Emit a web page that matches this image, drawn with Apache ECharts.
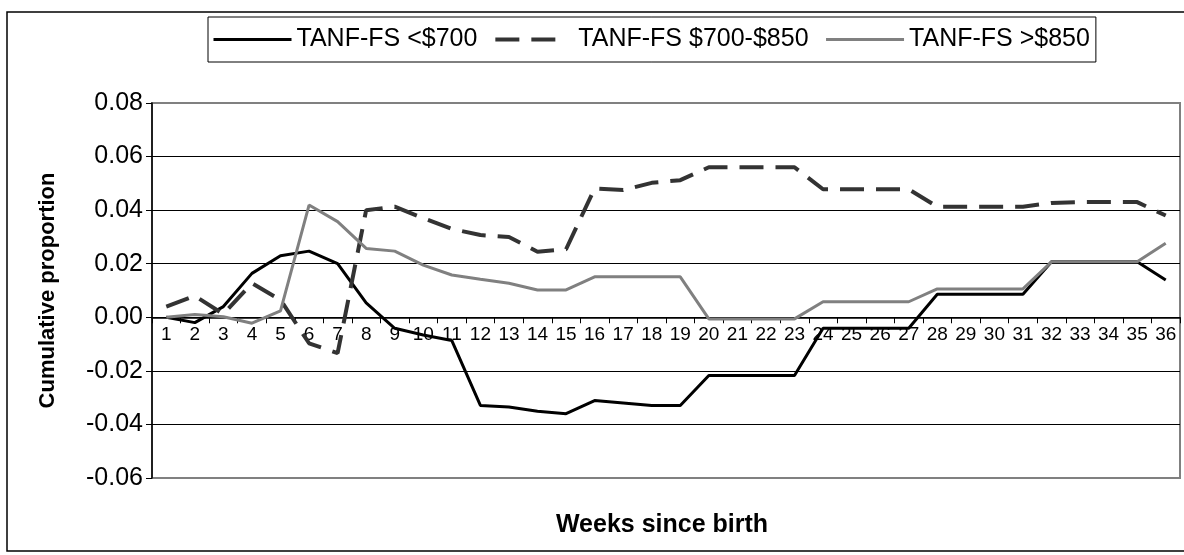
<!DOCTYPE html>
<html>
<head>
<meta charset="utf-8">
<title>Cumulative proportion by weeks since birth</title>
<script src="https://cdn.jsdelivr.net/npm/echarts@6/dist/echarts.min.js"></script>
<style>
	html, body { margin: 0; padding: 0; background: #fff; }
	#chartDom { width: 1184px; height: 555px; }
</style>
</head>
<body>
<div id="chartDom"></div>
<script>
	// x categories: weeks 1..36
	const weeks = ['1', '2', '3', '4', '5', '6', '7', '8', '9', '10', '11', '12', '13', '14', '15', '16', '17', '18',
		'19', '20', '21', '22', '23', '24', '25', '26', '27', '28', '29', '30', '31', '32', '33', '34', '35', '36'];

	const seriesNames = ['TANF-FS <$700', 'TANF-FS $700-$850', 'TANF-FS >$850'];

	// TANF-FS <$700 (black solid)
	const lowIncome = [0, -0.002, 0.004, 0.0164, 0.023, 0.0247, 0.020, 0.0054, -0.0041, -0.0066, -0.0087, -0.0329,
		-0.0335, -0.0351, -0.036, -0.0311, -0.032, -0.0329, -0.0329, -0.0217, -0.0217, -0.0217, -0.0217, -0.0041,
		-0.0041, -0.0041, -0.0041, 0.0086, 0.0086, 0.0086, 0.0086, 0.0207, 0.0207, 0.0207, 0.0207, 0.0139];

	// TANF-FS $700-$850 (dark dashed)
	const midIncome = [0.004, 0.008, 0.0012, 0.0127, 0.0065, -0.0097, -0.0134, 0.040, 0.0413, 0.037, 0.033, 0.0307,
		0.030, 0.0245, 0.0254, 0.0481, 0.0475, 0.0502, 0.0512, 0.056, 0.056, 0.056, 0.056, 0.0478,
		0.0478, 0.0478, 0.0478, 0.0413, 0.0413, 0.0413, 0.0413, 0.0427, 0.043, 0.043, 0.043, 0.038];

	// TANF-FS >$850 (gray solid)
	const highIncome = [0, 0.001, 0.0002, -0.0022, 0.0024, 0.0419, 0.0357, 0.0257, 0.0247, 0.0195, 0.0158, 0.0142,
		0.0127, 0.0102, 0.0102, 0.0151, 0.0151, 0.0151, 0.0151, -0.0006, -0.0006, -0.0006, -0.0006, 0.0058,
		0.0058, 0.0058, 0.0058, 0.0106, 0.0106, 0.0106, 0.0106, 0.0207, 0.0207, 0.0207, 0.0207, 0.0276];

	const yMin = -0.06;
	const yMax = 0.08;
	const yStep = 0.02;

	const font = '"Liberation Sans", Arial, sans-serif';

	// plot box
	const gridTop = 103;
	const gridBottom = 77;
	const gridHeight = 555 - gridTop - gridBottom;
	// category axis sits on the zero line (Excel style)
	const xAxisOffset = -gridHeight * (0 - yMin) / (yMax - yMin);

	const lineStyles = [
		{ color: '#000000', width: 3, type: 'solid' },
		{ color: '#333333', width: 4, type: [24, 12] },
		{ color: '#808080', width: 3, type: 'solid' }
	];
	// legend sample of the dashed line: two whole dashes
	const legendStyles = [
		lineStyles[0],
		{ color: '#333333', width: 4, type: [24, 12, 24, 18] },
		lineStyles[2]
	];

	const myChart = echarts.init(document.getElementById('chartDom'), null, { renderer: 'canvas' });

	const lineSeries = (name, data, style) => ({
		name: name,
		type: 'line',
		data: data,
		symbol: 'none',
		smooth: false,
		lineStyle: style,
		itemStyle: { color: style.color }
	});

	const option = {
		animation: false,
		backgroundColor: '#fff',
		textStyle: { fontFamily: font, color: '#000' },
		graphic: [{
			// outer chart frame
			type: 'rect',
			shape: { x: 7, y: 12, width: 1200, height: 539 },
			style: { fill: 'none', stroke: '#000', lineWidth: 1.5 },
			z: -10
		}],
		title: {
			text: 'Weeks since birth',
			left: 657,
			top: 508,
			textAlign: 'center',
			textStyle: { fontFamily: font, fontSize: 25, fontWeight: 'bold', color: '#000' }
		},
		legend: {
			data: seriesNames.map((n, i) => ({ name: n, lineStyle: legendStyles[i] })),
			left: 208,
			top: 17,
			itemWidth: 78,
			itemHeight: 14,
			itemGap: 16,
			padding: [10, 6, 10, 4],
			backgroundColor: '#fff',
			borderColor: '#000',
			borderWidth: 1,
			// hide the round marker, keep the line sample
			itemStyle: { opacity: 0 },
			textStyle: { fontFamily: font, fontSize: 25, color: '#000' }
		},
		grid: {
			left: 152,
			right: 4,
			top: gridTop,
			bottom: gridBottom,
			show: true,
			borderColor: '#808080',
			borderWidth: 2,
			backgroundColor: '#fff'
		},
		xAxis: {
			type: 'category',
			data: weeks,
			boundaryGap: true,
			offset: xAxisOffset,
			axisLine: { onZero: false, lineStyle: { color: '#000', width: 1.5 } },
			axisTick: { show: true, interval: 0, length: 6, lineStyle: { color: '#000', width: 1 } },
			axisLabel: { interval: 0, fontSize: 19, margin: 8, color: '#000', fontFamily: font },
			splitLine: { show: false }
		},
		yAxis: {
			type: 'value',
			min: yMin,
			max: yMax,
			interval: yStep,
			name: 'Cumulative proportion',
			nameLocation: 'middle',
			nameRotate: 90,
			nameGap: 93,
			nameTextStyle: { fontFamily: font, fontSize: 22, fontWeight: 'bold', color: '#000' },
			axisLine: { show: true, lineStyle: { color: '#000', width: 1.5 } },
			axisTick: { show: true, length: 6, lineStyle: { color: '#000' } },
			axisLabel: {
				fontSize: 25,
				margin: 9,
				color: '#000',
				fontFamily: font,
				formatter: (v) => v.toFixed(2)
			},
			splitLine: {
				show: true,
				showMinLine: false,
				showMaxLine: false,
				lineStyle: { color: '#000', width: 1 }
			}
		},
		series: [
			lineSeries(seriesNames[0], lowIncome, lineStyles[0]),
			lineSeries(seriesNames[1], midIncome, lineStyles[1]),
			lineSeries(seriesNames[2], highIncome, lineStyles[2])
		]
	};

	myChart.setOption(option);
</script>
</body>
</html>
